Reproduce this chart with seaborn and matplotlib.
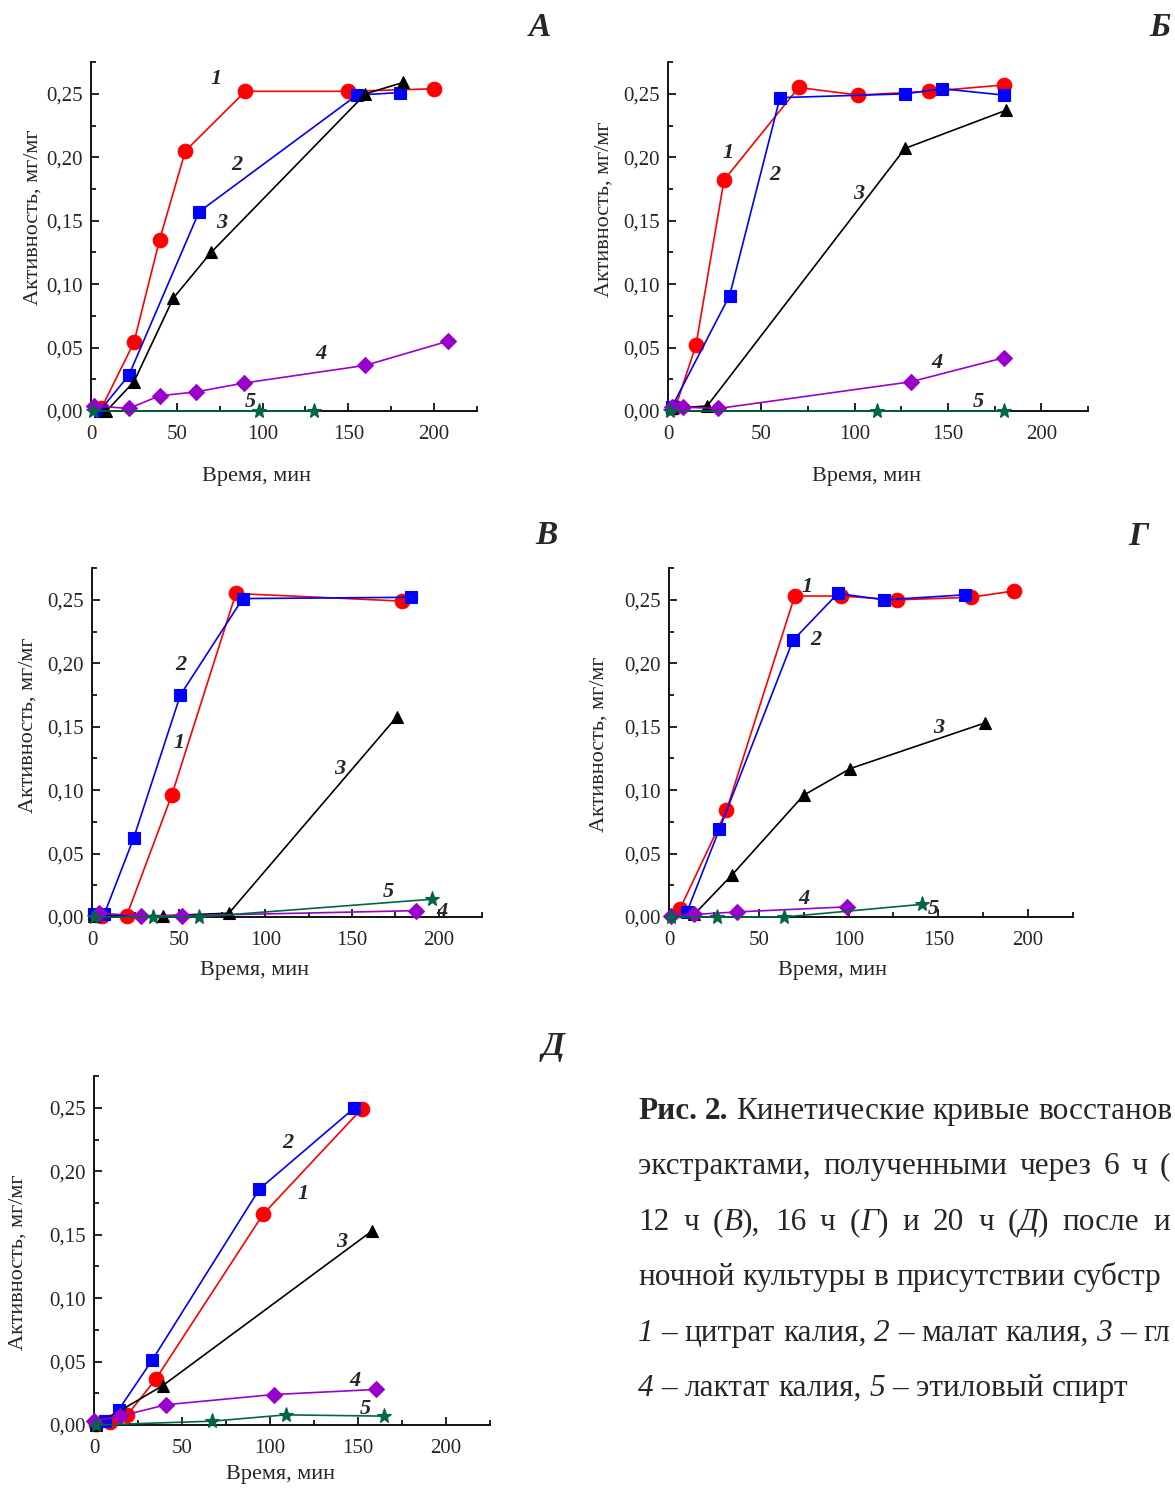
import matplotlib
matplotlib.use("Agg")
import matplotlib.pyplot as plt
import seaborn as sns
import pandas as pd
from matplotlib.ticker import MultipleLocator, FuncFormatter

sns.set_style("ticks")
plt.rcParams['font.family'] = ['Liberation Serif', 'DejaVu Serif']

# ---------------- data ----------------
# Panel А
A1_x = [6, 25, 40, 55, 90, 150, 200]
A1_y = [0.002, 0.054, 0.135, 0.205, 0.252, 0.252, 0.254]
A2_x = [5, 22, 63, 155, 180]
A2_y = [0.000, 0.028, 0.157, 0.249, 0.251]
A3_x = [9, 25, 48, 70, 160, 182]
A3_y = [0.000, 0.023, 0.089, 0.125, 0.250, 0.259]
A4_x = [2, 22, 40, 61, 89, 160, 208]
A4_y = [0.004, 0.002, 0.012, 0.015, 0.022, 0.036, 0.055]
A5_x = [1, 98, 130]
A5_y = [0.000, 0.000, 0.000]

# Panel Б
B1_x = [4, 15, 30, 70, 102, 140, 180]
B1_y = [0.003, 0.052, 0.182, 0.255, 0.249, 0.252, 0.257]
B2_x = [2, 33, 60, 127, 147, 180]
B2_y = [0.003, 0.091, 0.247, 0.250, 0.254, 0.249]
B3_x = [2, 21, 127, 181]
B3_y = [0.002, 0.004, 0.207, 0.237]
B4_x = [2, 8, 27, 130, 180]
B4_y = [0.003, 0.003, 0.002, 0.023, 0.042]
B5_x = [1, 112, 180]
B5_y = [0.000, 0.000, 0.000]

# Panel В
V1_x = [6, 20, 46, 83, 179]
V1_y = [0.001, 0.001, 0.096, 0.255, 0.249]
V2_x = [1, 7, 24, 51, 87, 184]
V2_y = [0.002, 0.002, 0.062, 0.175, 0.251, 0.252]
V3_x = [1, 41, 79, 176]
V3_y = [0.001, 0.001, 0.003, 0.158]
V4_x = [4, 28, 52, 187]
V4_y = [0.003, 0.001, 0.001, 0.005]
V5_x = [1, 35, 62, 196]
V5_y = [0.000, 0.000, 0.000, 0.014]

# Panel Г
G1_x = [6, 32, 70, 96, 127, 168, 192]
G1_y = [0.006, 0.084, 0.253, 0.253, 0.250, 0.252, 0.257]
G2_x = [10, 28, 69, 94, 120, 165]
G2_y = [0.004, 0.069, 0.218, 0.255, 0.250, 0.254]
G3_x = [14, 35, 75, 101, 176]
G3_y = [0.002, 0.033, 0.096, 0.117, 0.153]
G4_x = [1, 14, 38, 99]
G4_y = [0.001, 0.002, 0.004, 0.008]
G5_x = [1, 27, 64, 141]
G5_y = [0.000, 0.000, 0.000, 0.010]

# Panel Д
D1_x = [1, 9, 19, 35, 96, 152]
D1_y = [0.001, 0.002, 0.008, 0.036, 0.166, 0.249]
D2_x = [1, 6, 14, 33, 94, 148]
D2_y = [0.001, 0.003, 0.012, 0.051, 0.186, 0.250]
D3_x = [1, 39, 158]
D3_y = [0.000, 0.031, 0.153]
D4_x = [0, 15, 41, 102, 160]
D4_y = [0.003, 0.007, 0.016, 0.024, 0.028]
D5_x = [1, 67, 109, 165]
D5_y = [0.000, 0.003, 0.008, 0.007]

panel_letters = ["А", "Б", "В", "Г", "Д"]
xlabel_text = "Время, мин"
ylabel_text = "Активность, мг/мг"

# ---------------- styling ----------------
W, H = 1175, 1488
fig = plt.figure(figsize=(W / 100, H / 100), dpi=100)

styles = {
    1: dict(color="#ff0000", marker="o", markersize=10.5),
    2: dict(color="#0000ff", marker="s", markersize=9),
    3: dict(color="#000000", marker="^", markersize=8),
    4: dict(color="#9900cc", marker="D", markersize=8),
    5: dict(color="#006644", marker="*", markersize=11),
}

def px_axes(left, right, top, bottom):
    return [left / W, 1 - bottom / H, (right - left) / W, (bottom - top) / H]

panels = [
    dict(series={1: (A1_x, A1_y), 2: (A2_x, A2_y), 3: (A3_x, A3_y), 4: (A4_x, A4_y), 5: (A5_x, A5_y)},
         rect=(91, 477, 62, 411),
         labels={1: (73, 0.262), 2: (85, 0.194), 3: (76, 0.148), 4: (134, 0.045), 5: (93, 0.007)},
         ylab=(33, 217), xlab=(257, 477), letter=(540, 28)),
    dict(series={1: (B1_x, B1_y), 2: (B2_x, B2_y), 3: (B3_x, B3_y), 4: (B4_x, B4_y), 5: (B5_x, B5_y)},
         rect=(668, 1088, 62, 411),
         labels={1: (32, 0.203), 2: (57, 0.186), 3: (102, 0.171), 4: (144, 0.038), 5: (166, 0.007)},
         ylab=(604, 209), xlab=(866, 477), letter=(1160, 28)),
    dict(series={1: (V1_x, V1_y), 2: (V2_x, V2_y), 3: (V3_x, V3_y), 4: (V4_x, V4_y), 5: (V5_x, V5_y)},
         rect=(92, 482, 568, 917),
         labels={1: (50, 0.137), 2: (51, 0.199), 3: (143, 0.117), 4: (202, 0.004), 5: (171, 0.020)},
         ylab=(28, 725), xlab=(254, 970), letter=(546, 535)),
    dict(series={1: (G1_x, G1_y), 2: (G2_x, G2_y), 3: (G3_x, G3_y), 4: (G4_x, G4_y), 5: (G5_x, G5_y)},
         rect=(669, 1073, 568, 917),
         labels={1: (77, 0.260), 2: (82, 0.218), 3: (150, 0.149), 4: (75, 0.0145), 5: (147, 0.0066)},
         ylab=(599, 744), xlab=(832, 970), letter=(1138, 537)),
    dict(series={1: (D1_x, D1_y), 2: (D2_x, D2_y), 3: (D3_x, D3_y), 4: (D4_x, D4_y), 5: (D5_x, D5_y)},
         rect=(94, 490, 1076, 1425),
         labels={1: (119, 0.182), 2: (110, 0.222), 3: (141, 0.144), 4: (148, 0.035), 5: (154, 0.013)},
         ylab=(18, 1262), xlab=(281, 1474), letter=(553, 1047)),
]

yfmt = FuncFormatter(lambda v, p: f"{v:.2f}".replace(".", ","))
xfmt = FuncFormatter(lambda v, p: f"{v:.0f}")

for i, pnl in enumerate(panels):
    ax = fig.add_axes(px_axes(*pnl["rect"]))
    for k in [1, 2, 3, 4, 5]:
        xs, ys = pnl["series"][k]
        df = pd.DataFrame({"t": xs, "a": ys})
        st = styles[k]
        sns.lineplot(data=df, x="t", y="a", ax=ax, sort=False, estimator=None,
                     color=st["color"], marker=st["marker"], markersize=st["markersize"],
                     markeredgecolor=st["color"], markeredgewidth=0.8, linewidth=1.2,
                     clip_on=False, zorder=3 + k * 0.1)
    ax.set_xlim(0, 225)
    ax.set_ylim(0, 0.2751)
    ax.xaxis.set_major_locator(MultipleLocator(50))
    ax.xaxis.set_minor_locator(MultipleLocator(25))
    ax.yaxis.set_major_locator(MultipleLocator(0.05))
    ax.yaxis.set_minor_locator(MultipleLocator(0.025))
    ax.xaxis.set_major_formatter(xfmt)
    ax.yaxis.set_major_formatter(yfmt)
    ax.tick_params(which="both", direction="in", width=1.2, labelsize=15, color="black")
    ax.tick_params(which="major", length=6)
    ax.tick_params(which="minor", length=3.5)
    ax.tick_params(axis="y", pad=6)
    ax.tick_params(axis="x", pad=10)
    for s in ["top", "right"]:
        ax.spines[s].set_visible(False)
    for s in ["left", "bottom"]:
        ax.spines[s].set_linewidth(1.3)
        ax.spines[s].set_color("black")
    ax.set_xlabel("")
    ax.set_ylabel("")
    ax.patch.set_alpha(0)
    for k, (lx, ly) in pnl["labels"].items():
        ax.text(lx, ly, str(k), fontsize=16, fontstyle="italic", fontweight="bold",
                ha="center", va="center", zorder=10)
    fig.text(pnl["ylab"][0] / W, 1 - pnl["ylab"][1] / H, ylabel_text, rotation=90,
             ha="center", va="center", fontsize=16)
    fig.text(pnl["xlab"][0] / W, 1 - pnl["xlab"][1] / H, xlabel_text,
             ha="center", va="center", fontsize=16)
    fig.text(pnl["letter"][0] / W, 1 - pnl["letter"][1] / H, panel_letters[i],
             ha="center", va="center", fontsize=24, fontstyle="italic", fontweight="bold")

# ---------------- caption ----------------
N, I, B = ("normal", "normal"), ("italic", "normal"), ("normal", "bold")
# each line: list of words; each word: list of (text, (style, weight))
caption_lines = [
    [[("Рис.", B)], [("2.", B)], [("Кинетические", N)], [("кривые", N)], [("восстанов", N)]],
    [[("экстрактами,", N)], [("полученными", N)], [("через", N)], [("6", N)], [("ч", N)], [("(", N)]],
    [[("12", N)], [("ч", N)], [("(", N), ("В", I), ("),", N)], [("16", N)], [("ч", N)],
     [("(", N), ("Г", I), (")", N)], [("и", N)], [("20", N)], [("ч", N)],
     [("(", N), ("Д", I), (")", N)], [("после", N)], [("и", N)]],
    [[("ночной", N)], [("культуры", N)], [("в", N)], [("присутствии", N)], [("субстр", N)]],
    [[("1", I)], [("–", N)], [("цитрат", N)], [("калия,", N)], [("2", I)], [("–", N)],
     [("малат", N)], [("калия,", N)], [("3", I)], [("–", N)], [("гл", N)]],
    [[("4", I)], [("–", N)], [("лактат", N)], [("калия,", N)], [("5", I)], [("–", N)],
     [("этиловый", N)], [("спирт", N)]],
]
caption_y = [1108, 1163, 1219, 1274, 1330, 1385]
caption_target = [None, 1170, 1170, None, None, None]
cap_size = 22.5
x_start = 638.0

fig.canvas.draw()
renderer = fig.canvas.get_renderer()

def text_width(s, style, weight):
    t = fig.text(0, 0, s, fontsize=cap_size, fontstyle=style, fontweight=weight)
    w = t.get_window_extent(renderer).width
    t.remove()
    return w

space_w = text_width("a a", "normal", "normal") - text_width("aa", "normal", "normal")
bold_space_w = text_width("a a", "normal", "bold") - text_width("aa", "normal", "bold")

for words, yy, target in zip(caption_lines, caption_y, caption_target):
    widths = [sum(text_width(s, st, wt) for s, (st, wt) in word) for word in words]
    if target is not None:
        gap = (target - x_start - sum(widths)) / (len(words) - 1)
    else:
        gap = space_w
    x = x_start
    for word, ww in zip(words, widths):
        xx = x
        for s, (st, wt) in word:
            fig.text(xx / W, 1 - yy / H, s, fontsize=cap_size, fontstyle=st, fontweight=wt,
                     ha="left", va="center_baseline")
            xx += text_width(s, st, wt)
        x += ww + gap

fig.savefig("out.png", dpi=100)
